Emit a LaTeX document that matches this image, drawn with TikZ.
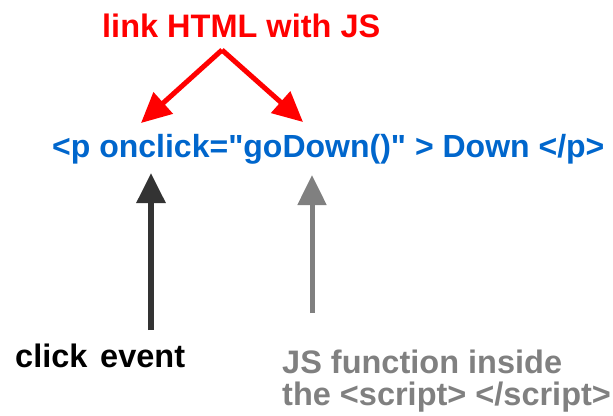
\documentclass[tikz,border=0pt]{standalone}
\usepackage{fontspec}
\setmainfont{Liberation Sans}
\usetikzlibrary{arrows.meta}
\definecolor{linkred}{RGB}{255,0,0}
\definecolor{codeblue}{RGB}{0,102,204}
\definecolor{eventgray}{RGB}{51,51,51}
\definecolor{fngray}{RGB}{128,128,128}
\tikzset{
  lbl/.style={inner sep=0pt, anchor=base west, font=\fontsize{32.5}{32}\selectfont\bfseries},
  bigarrow/.style={-{Triangle[length=30pt,width=28pt]}, line width=5pt}
}
\begin{document}
\begin{tikzpicture}[x=1pt,y=-1pt]
      \useasboundingbox (0,0) rectangle (613,415);
      \draw
        (102,37) node[lbl, text=linkred] (title){link HTML with JS}
        (52,157) node[lbl, text=codeblue, font=\fontsize{32}{32}\selectfont\bfseries] (code){<p onclick=\textquotedbl goDown()\textquotedbl{} > Down </p>}
        (15,367) node[lbl] (click){click}
        (100,367) node[lbl] (event){event}
        (282,373) node[lbl, text=fngray] (fn){JS function inside}
        (282,405) node[lbl, text=fngray] (fn2){the <script> </script>};
      \coordinate (apex) at (222,50);
      \coordinate (onclick) at (141,123);
      \coordinate (godown) at (303,122);
      \coordinate (clickfoot) at (151,330);
      \coordinate (clicktip) at (151,173);
      \coordinate (fnfoot) at (312,313);
      \coordinate (fntip) at (312,175);
      \begin{scope}[bigarrow]
        \draw[linkred] (apex) to (onclick);
        \draw[linkred] (apex) to (godown);
        \draw[eventgray, line width=6pt] (clickfoot) to (clicktip);
        \draw[fngray] (fnfoot) to (fntip);
      \end{scope}
    \end{tikzpicture}
\end{document}
